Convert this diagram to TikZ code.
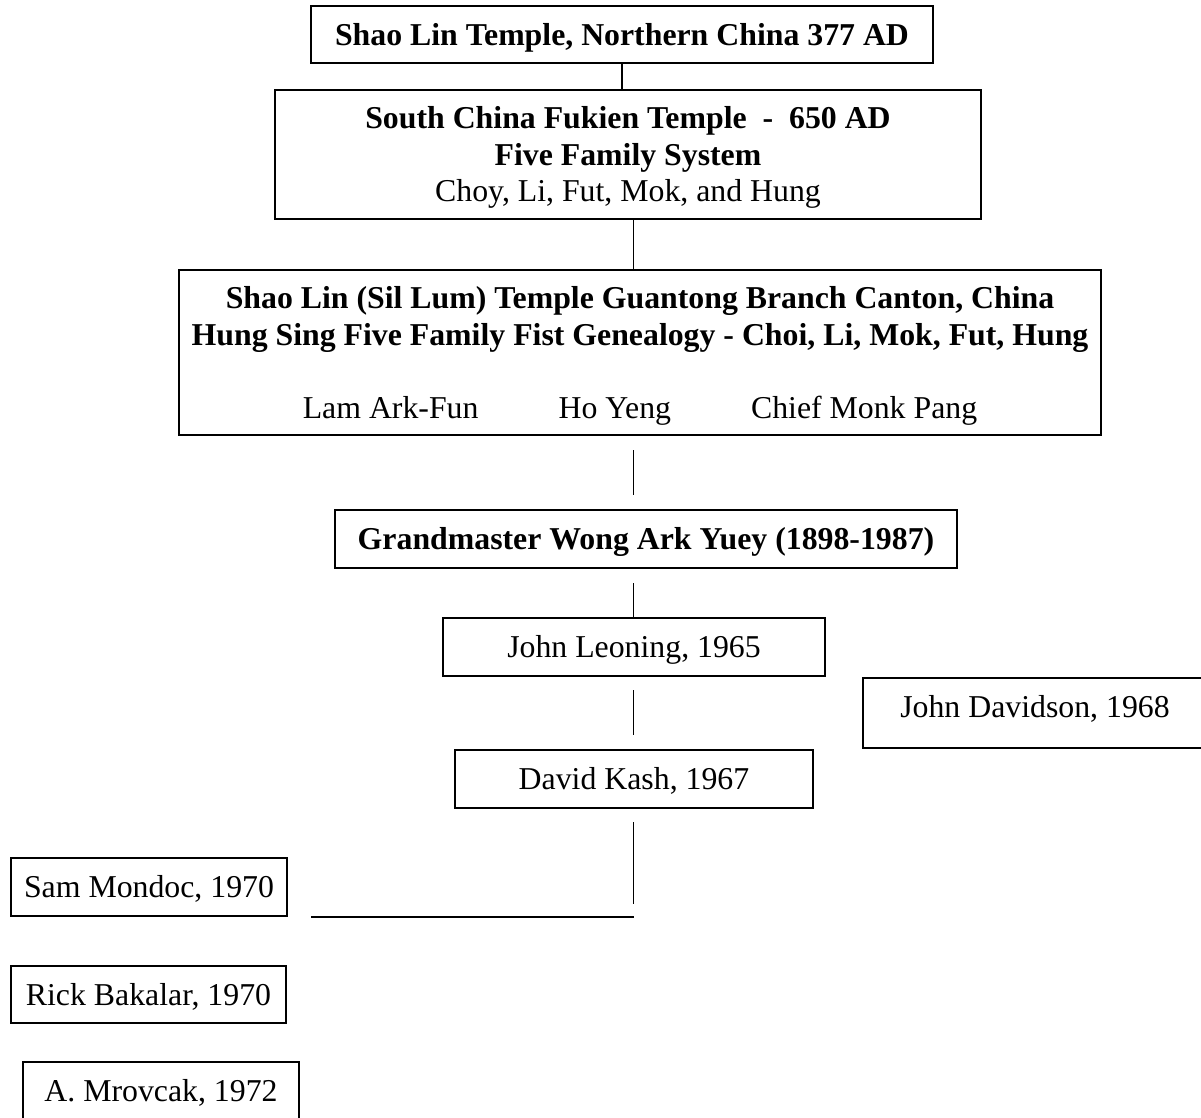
\documentclass[tikz,border=0pt]{standalone}
\usepackage{fontspec}
\setmainfont{Liberation Serif}
\usetikzlibrary{calc}
\newcommand{\boxtext}[2][-3.5pt]{\raisebox{#1}[\height][\depth]{\begin{tabular}{@{}c@{}}#2\end{tabular}}}
\tikzset{
  boxnode/.style={draw=black, line width=2.4pt, rectangle, inner sep=0pt, align=center,
    font=\fontsize{31.8}{36.5}\selectfont},
  conn/.style={draw=black, line width=1.8pt},
}
\begin{document}
\begin{tikzpicture}[x=1pt,y=-1pt]
\useasboundingbox (0,0) rectangle (1201,1118);
\clip (0,0) rectangle (1201,1118);
\fill[white] (0,0) rectangle (1201,1118);

\node[boxnode, minimum width=622, minimum height=57] (b1) at (622,34.5)
  {\boxtext{\bfseries Shao Lin Temple, Northern China 377 AD}};
\node[boxnode, minimum width=706, minimum height=129] (b2) at (628,154.5)
  {\boxtext{\bfseries South China Fukien Temple\ \ -\ \ 650 AD\\ \bfseries Five Family System\\ Choy, Li, Fut, Mok, and Hung}};
\node[boxnode, minimum width=922, minimum height=165] (b3) at (640,352.5)
  {\boxtext{\bfseries Shao Lin (Sil Lum) Temple Guantong Branch Canton, China\\
   \bfseries Hung Sing Five Family Fist Genealogy - Choi, Li, Mok, Fut, Hung\\[36.5pt]
   Lam Ark-Fun\hspace{80pt}Ho Yeng\hspace{80pt}Chief Monk Pang}};
\node[boxnode, minimum width=622, minimum height=58] (b4) at (646,539)
  {\boxtext{\bfseries Grandmaster Wong Ark Yuey (1898-1987)}};
\node[boxnode, minimum width=382, minimum height=58] (leon) at (634,647)
  {\boxtext{John Leoning, 1965}};
\node[boxnode, minimum width=344, minimum height=70] (dav) at (1035,713)
  {\boxtext[2.5pt]{John Davidson, 1968}};
\node[boxnode, minimum width=358, minimum height=58] (kash) at (634,779)
  {\boxtext{David Kash, 1967}};
\node[boxnode, minimum width=276, minimum height=58] (sam) at (149,887)
  {\boxtext{Sam Mondoc, 1970}};
\node[boxnode, minimum width=275, minimum height=57] (rick) at (148.5,994.5)
  {\boxtext{Rick Bakalar, 1970}};
\node[boxnode, minimum width=276, minimum height=58] (mro) at (161,1091)
  {\boxtext{A. Mrovcak, 1972}};

\coordinate (spine) at (633.5,0);
\coordinate (jend) at (633.5,904);
\coordinate (hright) at (633.5,917);
\coordinate (hleft) at (311,917);

\draw[conn] (b1.south) -- (b1.south |- b2.north);
\draw[conn] (b2.south -| spine) -- (b3.north -| spine);
\draw[conn, shorten <=14pt, shorten >=14pt] (b3.south -| spine) -- (b4.north -| spine);
\draw[conn, shorten <=14pt] (b4.south -| spine) -- (leon.north -| spine);
\draw[conn, shorten <=13pt, shorten >=14pt] (leon.south -| spine) -- (kash.north -| spine);
\draw[conn, shorten <=13pt] (kash.south -| spine) -- (jend);
\draw[conn] (hleft) -- (hright);
\end{tikzpicture}
\end{document}
